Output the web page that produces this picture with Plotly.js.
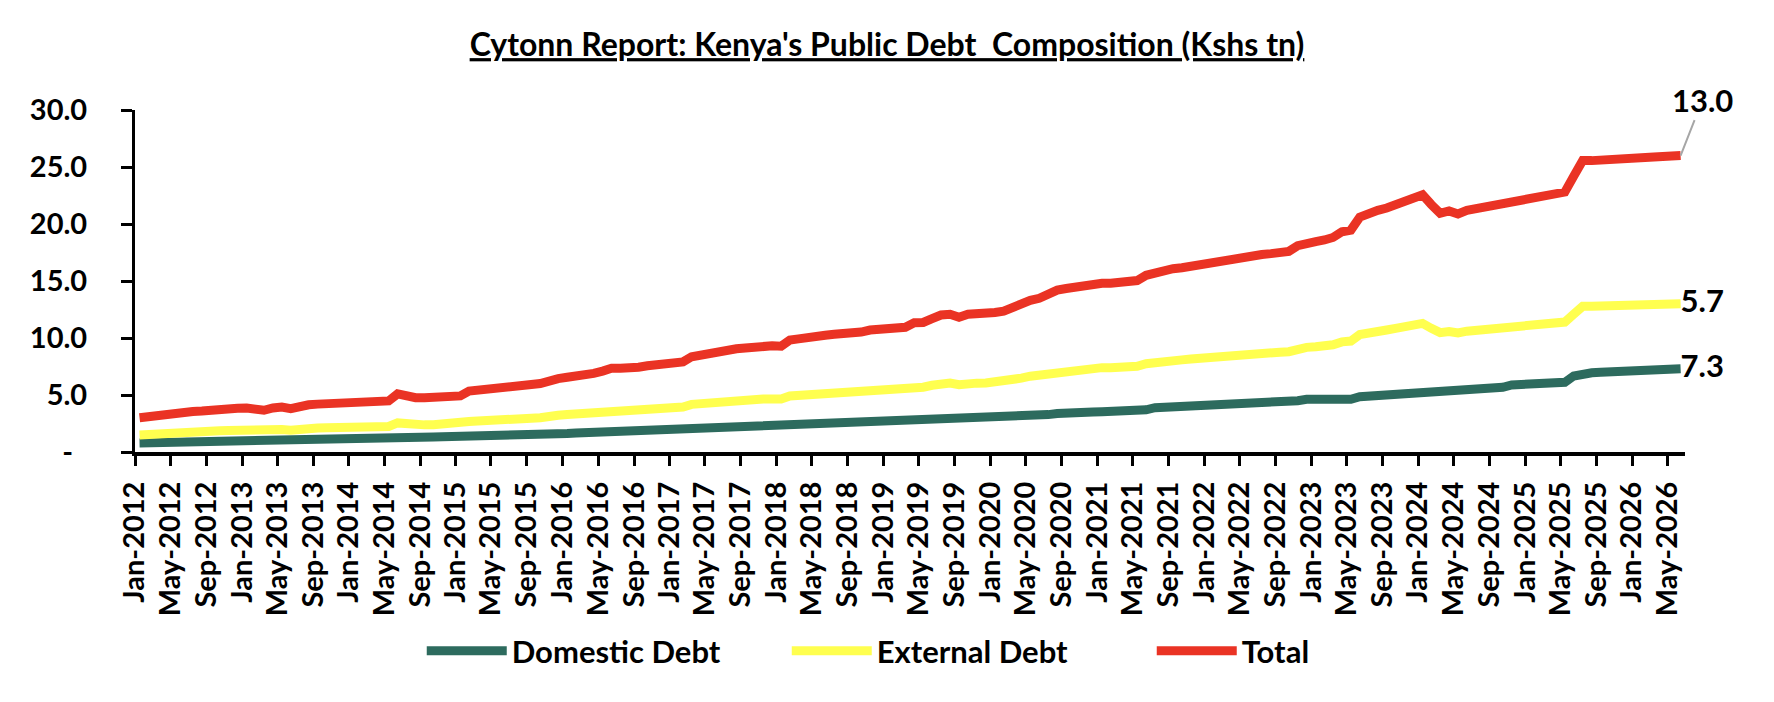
<!DOCTYPE html>
<html>
<head>
<meta charset="utf-8">
<script src="https://cdn.plot.ly/plotly-3.0.1.min.js"></script>
<style>
  html, body { margin: 0; padding: 0; background: #fff; }
  #chart { width: 1774px; height: 702px; }
</style>
</head>
<body>
<div id="chart"></div>
<script>
// monthly readings, Jan-2012 .. Jun-2026 (Kshs tn)
const domestic = [
  0.80, 0.82, 0.84, 0.86, 0.88, 0.90, 0.94, 0.95, 0.96, 0.97, 0.98, 1.00,
  1.01, 1.03, 1.05, 1.12, 1.13, 1.12, 1.18, 1.22, 1.24, 1.25, 1.26, 1.27,
  1.27, 1.28, 1.28, 1.28, 1.28, 1.34, 1.33, 1.32, 1.32, 1.32, 1.33, 1.34,
  1.34, 1.35, 1.36, 1.37, 1.38, 1.39, 1.40, 1.41, 1.42, 1.43, 1.58, 1.60,
  1.63, 1.67, 1.70, 1.74, 1.78, 1.80, 1.82, 1.84, 1.86, 1.88, 1.89, 1.90,
  1.91, 1.92, 1.93, 2.00, 2.08, 2.13, 2.16, 2.19, 2.22, 2.25, 2.28, 2.31,
  2.33, 2.36, 2.40, 2.45, 2.50, 2.57, 2.59, 2.61, 2.63, 2.65, 2.66, 2.57,
  2.66, 2.75, 2.77, 2.80, 2.83, 2.86, 2.89, 2.93, 2.97, 3.00, 3.04, 3.08,
  3.08, 3.10, 3.10, 3.12, 3.15, 3.19, 3.28, 3.38, 3.45, 3.47, 3.49, 3.50,
  3.52, 3.53, 3.54, 3.58, 3.63, 3.70, 3.89, 3.92, 3.96, 3.99, 4.03, 4.06,
  4.15, 4.27, 4.28, 4.29, 4.30, 4.31, 4.32, 4.33, 4.36, 4.41, 4.50, 4.62,
  4.62, 4.62, 4.62, 4.62, 4.62, 4.85, 4.90, 4.94, 4.97, 5.00, 5.05, 5.10,
  5.15, 5.35, 5.38, 5.42, 5.46, 5.50, 5.53, 5.58, 5.63, 5.67, 5.88, 5.92,
  5.96, 6.00, 6.05, 6.08, 6.11, 6.67, 6.90, 6.95, 6.99, 7.02, 7.05, 7.08,
  7.12, 7.16, 7.20, 7.23, 7.27, 7.30
];

const external = [
  0.70, 0.74, 0.79, 0.82, 0.82, 0.82, 0.84, 0.85, 0.89, 0.90, 0.91, 0.92,
  0.92, 0.87, 0.78, 0.81, 0.84, 0.78, 0.84, 0.85, 0.86, 0.88, 0.90, 0.92,
  0.94, 0.95, 0.95, 0.95, 0.96, 1.21, 1.12, 1.06, 1.06, 1.08, 1.09, 1.11,
  1.12, 1.32, 1.36, 1.42, 1.44, 1.47, 1.50, 1.52, 1.54, 1.57, 1.58, 1.62,
  1.65, 1.65, 1.68, 1.71, 1.77, 1.87, 1.85, 1.83, 1.86, 1.90, 1.95, 1.98,
  2.01, 2.03, 2.25, 2.25, 2.22, 2.32, 2.34, 2.34, 2.34, 2.37, 2.37, 2.35,
  2.31, 2.55, 2.56, 2.59, 2.58, 2.55, 2.57, 2.57, 2.59, 2.61, 2.69, 2.81,
  2.75, 2.71, 2.70, 2.87, 2.85, 2.99, 3.12, 3.11, 2.94, 3.04, 3.00, 2.97,
  3.04, 3.08, 3.25, 3.36, 3.50, 3.55, 3.67, 3.72, 3.72, 3.77, 3.81, 3.88,
  3.88, 3.87, 3.87, 3.88, 3.89, 4.05, 3.99, 4.06, 4.08, 4.09, 4.12, 4.17,
  4.14, 4.08, 4.14, 4.23, 4.30, 4.32, 4.34, 4.37, 4.40, 4.39, 4.55, 4.56,
  4.61, 4.68, 4.79, 5.04, 5.11, 5.45, 5.60, 5.66, 5.73, 5.85, 6.00, 6.13,
  6.13, 5.50, 5.09, 5.15, 4.98, 5.10, 5.14, 5.20, 5.19, 5.16, 5.07, 5.07,
  5.12, 5.17, 5.20, 5.25, 5.29, 5.43, 5.88, 5.83, 5.80, 5.78, 5.77, 5.77,
  5.76, 5.75, 5.74, 5.73, 5.71, 5.70
];

const total = [
  1.50, 1.56, 1.63, 1.68, 1.70, 1.72, 1.78, 1.80, 1.85, 1.87, 1.89, 1.92,
  1.93, 1.90, 1.83, 1.93, 1.97, 1.90, 2.02, 2.07, 2.10, 2.13, 2.16, 2.19,
  2.21, 2.23, 2.23, 2.23, 2.24, 2.55, 2.45, 2.38, 2.38, 2.40, 2.42, 2.45,
  2.46, 2.67, 2.72, 2.79, 2.82, 2.86, 2.90, 2.93, 2.96, 3.00, 3.16, 3.22,
  3.28, 3.32, 3.38, 3.45, 3.55, 3.67, 3.67, 3.67, 3.72, 3.78, 3.84, 3.88,
  3.92, 3.95, 4.18, 4.25, 4.30, 4.45, 4.50, 4.53, 4.56, 4.62, 4.65, 4.66,
  4.64, 4.91, 4.96, 5.04, 5.08, 5.12, 5.16, 5.18, 5.22, 5.26, 5.35, 5.38,
  5.41, 5.46, 5.47, 5.67, 5.68, 5.85, 6.01, 6.04, 5.91, 6.04, 6.04, 6.05,
  6.12, 6.18, 6.35, 6.48, 6.65, 6.74, 6.95, 7.10, 7.17, 7.24, 7.30, 7.38,
  7.40, 7.40, 7.41, 7.46, 7.52, 7.75, 7.88, 7.98, 8.04, 8.08, 8.15, 8.23,
  8.29, 8.35, 8.42, 8.52, 8.60, 8.63, 8.66, 8.70, 8.76, 8.80, 9.05, 9.18,
  9.23, 9.30, 9.41, 9.66, 9.73, 10.30, 10.50, 10.60, 10.70, 10.85, 11.05, 11.23,
  11.28, 10.85, 10.47, 10.57, 10.44, 10.60, 10.67, 10.78, 10.82, 10.83, 10.95, 10.99,
  11.08, 11.17, 11.25, 11.33, 11.40, 12.10, 12.78, 12.78, 12.79, 12.80, 12.82, 12.85,
  12.88, 12.91, 12.94, 12.96, 12.98, 13.00
];

const yTickVals = [0, 5, 10, 15, 20, 25, 30];
const yTickText = ["-\u00a0\u00a0", "5.0", "10.0", "15.0", "20.0", "25.0", "30.0"];

// month axis (one entry per reading)
const months = [];
for (let i = 0; i < domestic.length; i++) {
  const y = 2012 + Math.floor(i / 12);
  const m = (i % 12) + 1;
  months.push(y + "-" + String(m).padStart(2, "0") + "-01");
}

const last = domestic.length - 1;
const FONT = "Lato, 'Open Sans', sans-serif";

function endLabel(arr) {
  return arr.map((v, i) => (i === last ? v.toFixed(1) : ""));
}

function series(name, values, color, withLabel) {
  return {
    x: months,
    y: values,
    name: name,
    type: "scatter",
    mode: withLabel ? "lines+text" : "lines",
    stackgroup: "debt",
    fill: "none",
    xperiod: "M1",
    xperiodalignment: "middle",
    line: { color: color, width: 9, shape: "linear" },
    text: withLabel ? endLabel(values) : undefined,
    textposition: "middle right",
    textfont: { family: FONT, size: 31, color: "#000", weight: 700 },
    cliponaxis: false,
    hoverinfo: "x+y",
  };
}

const data = [
  series("Domestic Debt", domestic, "#2D6B5E", true),
  series("External Debt", external, "#FFFF4F", true),
  series("Total", total, "#EA3324", false),
];

// top of the stack for the total label
const stackTop = domestic[last] + external[last] + total[last];
const lastDate = new Date(Date.UTC(2012, last, 16)).toISOString().slice(0, 10);

const layout = {
  width: 1774,
  height: 702,
  paper_bgcolor: "#fff",
  plot_bgcolor: "#fff",
  font: { family: FONT, size: 29, color: "#000", weight: 700 },
  margin: { l: 135, r: 89, t: 110, b: 250 },
  title: {
    text: "<u>Cytonn Report: Kenya's Public Debt  Composition (Kshs tn)</u>",
    font: { family: FONT, size: 32, color: "#000", weight: 700 },
    x: 0.5,
    xanchor: "center",
    y: 0.936,
    yanchor: "middle",
  },
  showlegend: true,
  legend: {
    orientation: "h",
    x: 0.185,
    xanchor: "left",
    y: -0.582,
    yanchor: "middle",
    traceorder: "normal",
    font: { family: FONT, size: 31, color: "#000", weight: 700 },
    entrywidth: 270,
    itemwidth: 80,
  },
  xaxis: {
    type: "date",
    range: ["2012-01-01", "2026-07-01"],
    tickmode: "linear",
    tick0: "2012-01-01",
    dtick: "M4",
    tickformat: "%b-%Y",
    tickangle: -90,
    ticks: "outside",
    ticklen: 10,
    tickwidth: 3,
    tickcolor: "#000",
    showline: true,
    linecolor: "#000",
    linewidth: 4,
    showgrid: false,
    zeroline: false,
    ticklabelstandoff: 4,
    tickfont: { family: FONT, size: 29, color: "#000", weight: 700 },
  },
  yaxis: {
    range: [0, 30],
    tickmode: "array",
    tickvals: yTickVals,
    ticktext: yTickText,
    ticks: "outside",
    ticklen: 11,
    tickwidth: 3,
    tickcolor: "#000",
    showline: true,
    linecolor: "#000",
    linewidth: 3,
    showgrid: false,
    zeroline: false,
    ticklabelstandoff: 28,
    tickfont: { family: FONT, size: 29, color: "#000", weight: 700 },
  },
  annotations: [
    {
      x: lastDate,
      y: stackTop,
      xref: "x",
      yref: "y",
      text: total[last].toFixed(1),
      showarrow: true,
      arrowhead: 0,
      arrowwidth: 2,
      arrowcolor: "#A6A6A6",
      ax: 22,
      ay: -56,
      font: { family: FONT, size: 31, color: "#000", weight: 700 },
    },
  ],
};

Plotly.newPlot("chart", data, layout, { displayModeBar: false, staticPlot: true });
</script>
</body>
</html>
